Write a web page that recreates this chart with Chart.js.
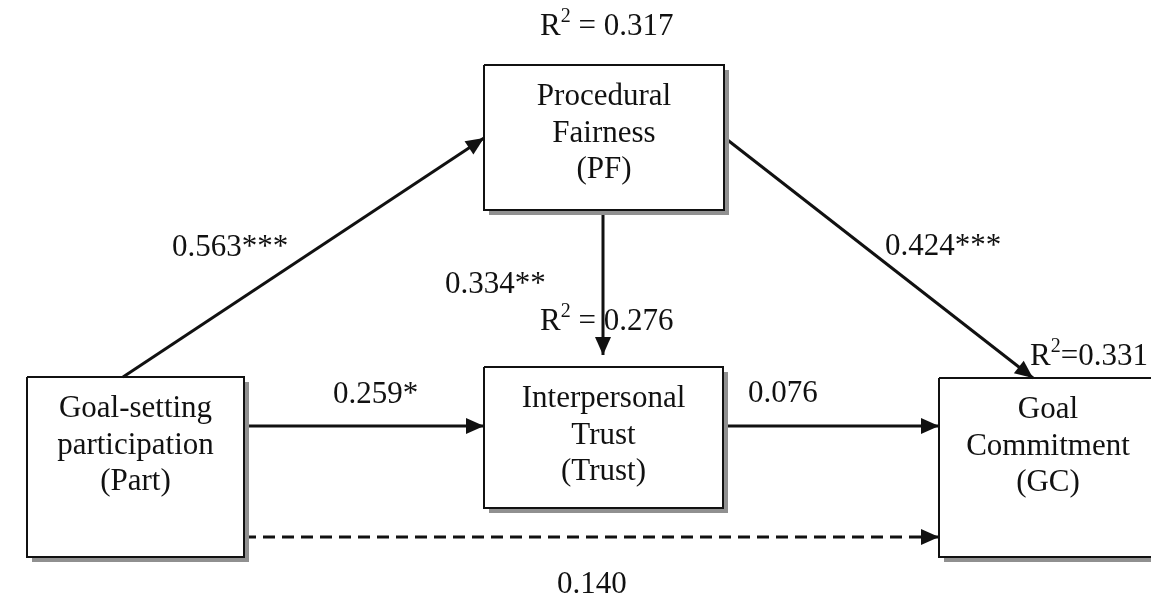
<!DOCTYPE html>
<html>
<head>
<meta charset="utf-8">
<script src="https://cdn.jsdelivr.net/npm/chart.js@4.4.1/dist/chart.umd.min.js"></script>
<style>
    html, body { margin: 0; padding: 0; background: #fff; }
    #wrap { width: 1151px; height: 598px; position: relative; }
</style>
</head>
<body>
<div id="wrap"><canvas id="Chart1"></canvas></div>
<script>
// model data
const nodeIds = ["Part", "PF", "Trust", "GC"];
const nodeLines = [
    ["Goal-setting", "participation", "(Part)"],
    ["Procedural", "Fairness", "(PF)"],
    ["Interpersonal", "Trust", "(Trust)"],
    ["Goal", "Commitment", "(GC)"]
];
const rSquared = [null, "0.317", "0.276", "0.331"];
const pathFrom = ["Part", "Part", "PF", "PF", "Trust", "Part"];
const pathTo = ["PF", "Trust", "Trust", "GC", "GC", "GC"];
const pathCoef = ["0.563***", "0.259*", "0.334**", "0.424***", "0.076", "0.140"];
const pathDashed = [false, false, false, false, false, true];

// layout (pixel space of the 1151x598 picture)
const boxes = {
    Part: {l: 27, t: 377, r: 244, b: 557},
    PF: {l: 484, t: 65, r: 724, b: 210},
    Trust: {l: 484, t: 367, r: 723, b: 508},
    GC: {l: 939, t: 378, r: 1157, b: 557}
};
const pathEnds = [
    [123, 377, 484, 138],
    [244, 426, 484, 426],
    [603, 210, 603, 355],
    [725, 138, 1033, 378],
    [724, 426, 939, 426],
    [244, 537, 939, 537]
];
const coefPos = [[172, 256], [333, 403], [445, 293], [885, 255], [748, 402], [557, 593]];
const r2Pos = [null, [540, 35], [540, 330], [1030, 365]];
const r2Tight = [false, false, false, true];

const FONT = '"Liberation Serif", "Times New Roman", serif';
const INK = "#111";

function boxDatasets() {
    const sets = [];
    nodeIds.forEach(id => {
        const b = boxes[id];
        sets.push({
            data: [{x: b.r + 3, y: b.t + 5}, {x: b.r + 3, y: b.b + 3}, {x: b.l + 5, y: b.b + 3}],
            borderColor: "#909090",
            borderWidth: 4
        });
        sets.push({
            data: [{x: b.l, y: b.t}, {x: b.r, y: b.t}, {x: b.r, y: b.b}, {x: b.l, y: b.b}, {x: b.l, y: b.t}],
            borderColor: INK,
            borderWidth: 2
        });
    });
    return sets;
}

function pathDatasets() {
    return pathEnds.map((p, i) => ({
        data: [{x: p[0], y: p[1]}, {x: p[2], y: p[3]}],
        borderColor: INK,
        borderWidth: 3,
        borderDash: pathDashed[i] ? [12, 7] : []
    }));
}

const arrowHeads = {
    id: "arrowHeads",
    afterDatasetsDraw(chart) {
        const ctx = chart.ctx;
        const xs = chart.scales.x, ys = chart.scales.y;
        ctx.save();
        ctx.fillStyle = INK;
        pathEnds.forEach(p => {
            const x0 = xs.getPixelForValue(p[0]), y0 = ys.getPixelForValue(p[1]);
            const x1 = xs.getPixelForValue(p[2]), y1 = ys.getPixelForValue(p[3]);
            const a = Math.atan2(y1 - y0, x1 - x0);
            const len = 18, half = 8;
            ctx.beginPath();
            ctx.moveTo(x1, y1);
            ctx.lineTo(x1 - len * Math.cos(a) + half * Math.sin(a), y1 - len * Math.sin(a) - half * Math.cos(a));
            ctx.lineTo(x1 - len * Math.cos(a) - half * Math.sin(a), y1 - len * Math.sin(a) + half * Math.cos(a));
            ctx.closePath();
            ctx.fill();
        });
        ctx.restore();
    }
};

function drawR2(ctx, x, y, value, tight) {
    ctx.textAlign = "left";
    ctx.font = "31px " + FONT;
    ctx.fillText("R", x, y);
    let w = ctx.measureText("R").width;
    ctx.font = "20px " + FONT;
    ctx.fillText("2", x + w, y - 13);
    w += ctx.measureText("2").width;
    ctx.font = "31px " + FONT;
    ctx.fillText(tight ? "=" + value : " = " + value, x + w, y);
}

const labels = {
    id: "labels",
    afterDraw(chart) {
        const ctx = chart.ctx;
        const xs = chart.scales.x, ys = chart.scales.y;
        ctx.save();
        ctx.fillStyle = INK;
        ctx.textBaseline = "alphabetic";

        nodeIds.forEach((id, i) => {
            const b = boxes[id];
            const cx = xs.getPixelForValue((b.l + b.r) / 2);
            ctx.font = "31px " + FONT;
            ctx.textAlign = "center";
            nodeLines[i].forEach((line, k) => {
                ctx.fillText(line, cx, ys.getPixelForValue(b.t + 40 + k * 36.5));
            });
            if (rSquared[i]) {
                drawR2(ctx, xs.getPixelForValue(r2Pos[i][0]), ys.getPixelForValue(r2Pos[i][1]), rSquared[i], r2Tight[i]);
            }
        });

        ctx.font = "31px " + FONT;
        ctx.textAlign = "left";
        pathCoef.forEach((c, i) => {
            ctx.fillText(c, xs.getPixelForValue(coefPos[i][0]), ys.getPixelForValue(coefPos[i][1]));
        });
        ctx.restore();
    }
};

const ctx = document.getElementById("Chart1").getContext("2d");
const diagram = new Chart(ctx, {
    type: "scatter",
    data: {datasets: boxDatasets().concat(pathDatasets())},
    options: {
        responsive: true,
        maintainAspectRatio: false,
        animation: false,
        showLine: true,
        layout: {padding: 0},
        elements: {point: {radius: 0, hoverRadius: 0}, line: {tension: 0, fill: false}},
        plugins: {legend: {display: false}, tooltip: {enabled: false}},
        scales: {
            x: {type: "linear", min: 0, max: 1151, display: false},
            y: {type: "linear", min: 0, max: 598, reverse: true, display: false}
        }
    },
    plugins: [arrowHeads, labels]
});
</script>
</body>
</html>
